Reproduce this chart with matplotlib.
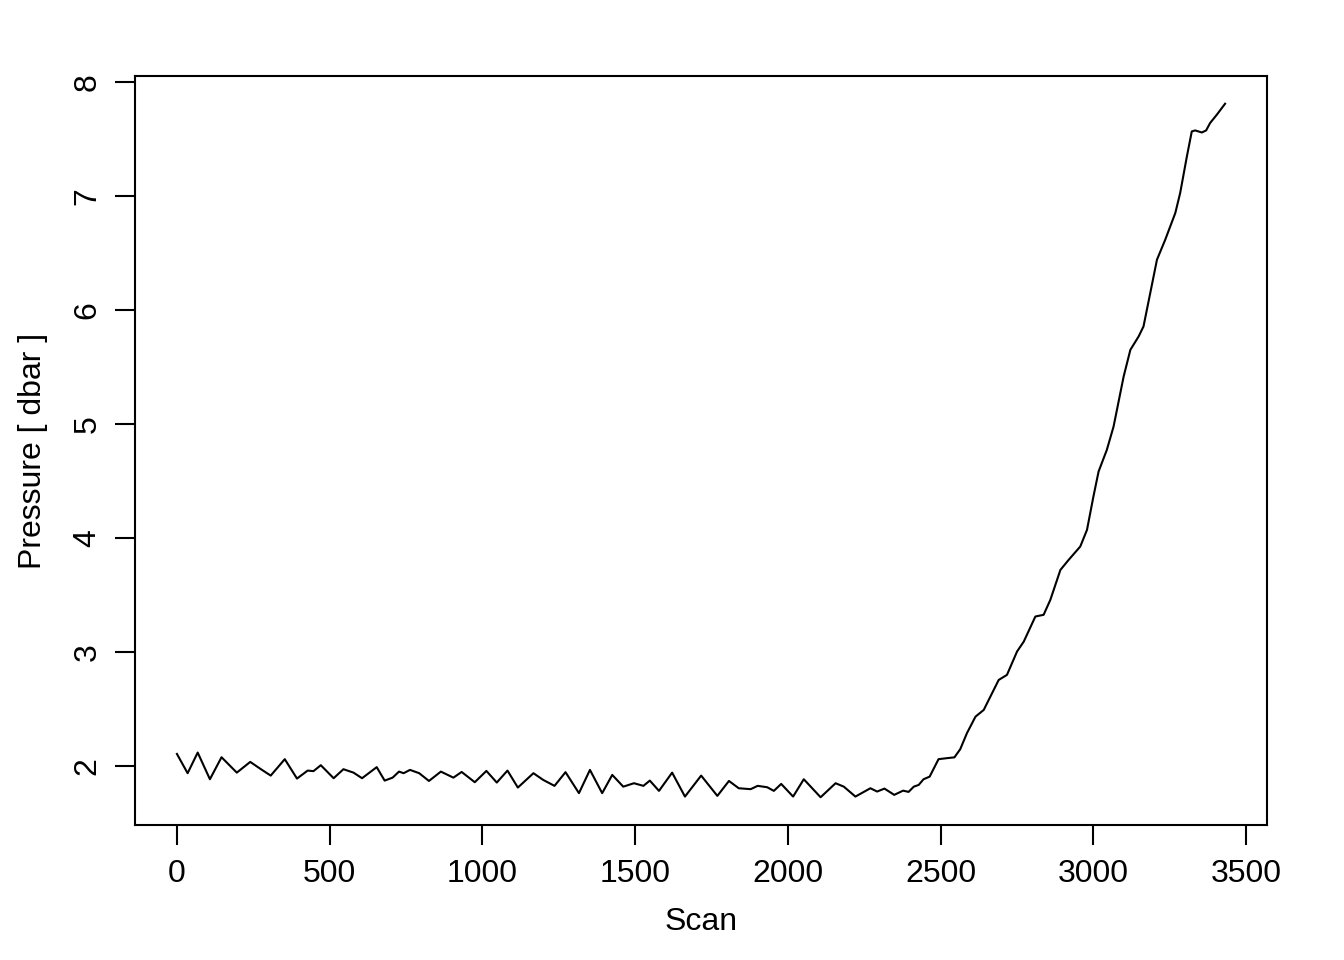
import matplotlib
matplotlib.use("Agg")
import matplotlib.pyplot as plt

plt.rcParams['font.family'] = ['Liberation Sans', 'DejaVu Sans']

# pressure trace
scan = [0, 35, 68, 108, 146, 196, 240, 275, 307, 353, 393, 428, 447, 471, 513, 545,
        578, 606, 654, 680, 706, 727, 742, 763, 793, 825, 864, 905, 932, 975, 1013,
        1047, 1082, 1116, 1167, 1199, 1236, 1272, 1316, 1352, 1392, 1425, 1461, 1496,
        1527, 1548, 1578, 1621, 1663, 1716, 1769, 1807, 1839, 1878, 1901, 1932, 1954,
        1978, 2017, 2052, 2107, 2156, 2183, 2221, 2270, 2292, 2316, 2348, 2377, 2395,
        2412, 2428, 2444, 2464, 2493, 2521, 2545, 2564, 2586, 2614, 2641, 2690, 2717,
        2750, 2772, 2810, 2837, 2859, 2892, 2919, 2957, 2979, 3000, 3017, 3044, 3066,
        3099, 3121, 3148, 3164, 3186, 3208, 3235, 3268, 3284, 3306, 3322, 3333, 3355,
        3369, 3382, 3404, 3431]
pressure = [2.105, 1.936, 2.117, 1.883, 2.076, 1.941, 2.035, 1.971, 1.915, 2.059, 1.889,
            1.959, 1.954, 2.006, 1.892, 1.971, 1.941, 1.892, 1.989, 1.871, 1.897, 1.950,
            1.936, 1.965, 1.936, 1.868, 1.950, 1.897, 1.947, 1.857, 1.956, 1.854, 1.959,
            1.810, 1.936, 1.877, 1.825, 1.945, 1.761, 1.965, 1.761, 1.921, 1.818, 1.848,
            1.825, 1.871, 1.781, 1.941, 1.731, 1.915, 1.737, 1.868, 1.804, 1.796, 1.825,
            1.813, 1.781, 1.842, 1.731, 1.883, 1.725, 1.848, 1.818, 1.731, 1.804, 1.775,
            1.801, 1.746, 1.783, 1.772, 1.818, 1.833, 1.883, 1.906, 2.059, 2.068, 2.075,
            2.146, 2.287, 2.432, 2.491, 2.754, 2.798, 3.003, 3.090, 3.310, 3.325, 3.456,
            3.719, 3.807, 3.924, 4.070, 4.362, 4.582, 4.772, 4.976, 5.415, 5.649, 5.766,
            5.854, 6.146, 6.439, 6.614, 6.848, 7.024, 7.345, 7.564, 7.573, 7.555, 7.573,
            7.638, 7.711, 7.807]

xticks = [0, 500, 1000, 1500, 2000, 2500, 3000, 3500]
yticks = [2, 3, 4, 5, 6, 7, 8]

fig = plt.figure(figsize=(13.44, 9.6), dpi=100)
ax = fig.add_axes([135 / 1344, 135 / 960, 1132 / 1344, 749 / 960])
ax.plot(scan, pressure, color='black', lw=1.5, solid_joinstyle='round')

# R-style 4% padding
xr = max(scan) - min(scan)
yr = max(pressure) - min(pressure)
ax.set_xlim(min(scan) - 0.04 * xr, max(scan) + 0.04 * xr)
ax.set_ylim(min(pressure) - 0.04 * yr, max(pressure) + 0.04 * yr)

for s in ax.spines.values():
    s.set_linewidth(1.5)
ax.set_xticks(xticks)
ax.set_yticks(yticks)
ax.set_xticklabels([str(t) for t in xticks])
ax.set_yticklabels([str(t) for t in yticks], rotation=90, va='center')
ax.tick_params(direction='out', length=14.4, width=1.5, labelsize=23, pad=10)
ax.tick_params(axis='y', pad=9)

fig.text(701 / 1344, 1 - 922 / 960, 'Scan', ha='center', va='center', fontsize=23)
fig.text(33 / 1344, 1 - 451 / 960, 'Pressure [ dbar ]', ha='center', va='center',
         rotation=90, fontsize=23)

fig.savefig('out.png', dpi=100)
